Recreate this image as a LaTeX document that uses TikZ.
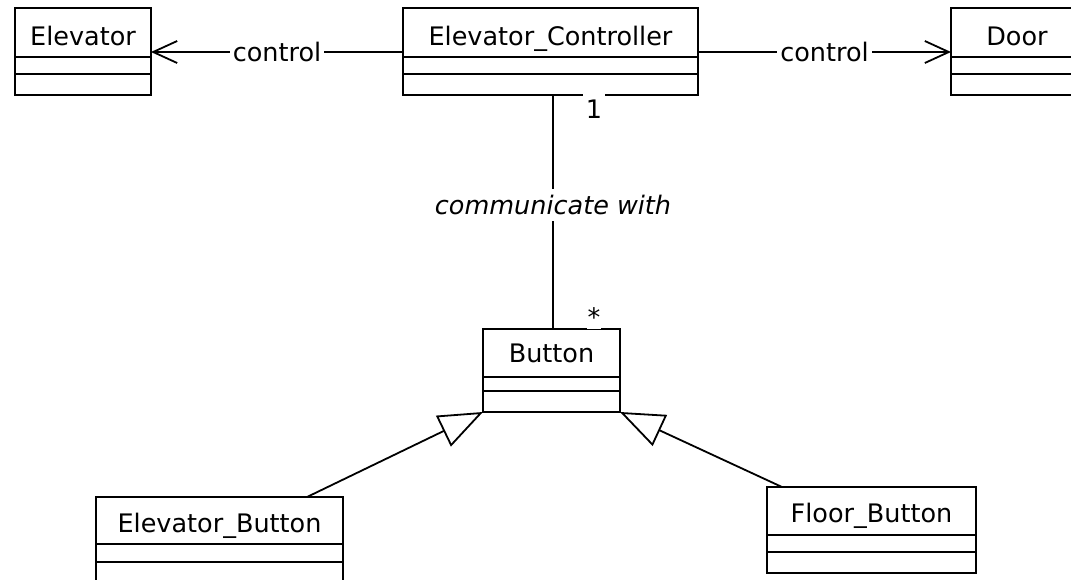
\documentclass[tikz,border=0pt]{standalone}
\usepackage{fontspec}
\setmainfont{DejaVu Sans}
\usetikzlibrary{arrows.meta}
\tikzset{
  clsbox/.style={draw, line width=2pt, inner sep=0pt, outer sep=0pt},
  clsline/.style={line width=2pt},
  clstitle/.style={anchor=base, inner sep=0pt},
  conn/.style={line width=1.8pt},
  dep/.style={conn, -{Straight Barb[length=24pt,width=22pt]}},
  gen/.style={conn, -{Triangle[open,fill=white,length=44pt,width=34pt]}},
  lbl/.style={fill=white, inner xsep=3pt, inner ysep=2pt},
  mult/.style={fill=white, inner xsep=3pt, inner ysep=3pt, anchor=base, text height=22pt, text depth=0pt},
  every node/.style={font=\fontsize{25.5}{30}\selectfont}
}
% name, x, y, width, height, divider1, divider2, title, baseline offset
\newcommand{\umlcls}[9]{%
  \node[clsbox, minimum width=#4pt, minimum height=#5pt, anchor=north west] (#1) at (#2,#3) {};
  \draw[clsline] ([yshift=-#6pt]#1.north west) -- ([yshift=-#6pt]#1.north east);
  \draw[clsline] ([yshift=-#7pt]#1.north west) -- ([yshift=-#7pt]#1.north east);
  \node[clstitle] (#1-t) at ([yshift=-#9pt]#1.north) {#8};
}
\begin{document}
\begin{tikzpicture}[x=1pt,y=-1pt]
\useasboundingbox (0,0) rectangle (1071,579);
\clip (0,0) rectangle (1071,579);

\umlcls{elev}{15}{8}{136}{87}{49}{66}{Elevator}{37}
\umlcls{ctrl}{403}{8}{295}{87}{49}{66}{Elevator\_Controller}{37}
\umlcls{door}{951}{8}{132}{87}{49}{66}{Door}{37}
\umlcls{btn}{483}{329}{137}{83}{48}{62}{Button}{33}
\umlcls{ebtn}{96}{497}{247}{120}{47}{65}{Elevator\_Button}{35}
\umlcls{fbtn}{767}{487}{209}{86}{48}{65}{Floor\_Button}{35}

% control dependencies
\draw[dep] ([yshift=-44pt]ctrl.north west) -- node[lbl] (c1) {control} ([yshift=-44pt]elev.north east);
\draw[dep] ([yshift=-44pt]ctrl.north east) -- node[lbl] (c2) {control} ([yshift=-44pt]door.north west);

% association
\coordinate (vx) at (553,0);
\draw[conn] (ctrl.south -| vx) -- node[lbl, pos=0.47, inner ysep=6pt, font=\fontsize{25.5}{30}\selectfont\itshape] (assoc) {communicate with} (btn.north -| vx);
\node[mult] (m1) at (594,118) {1};
\node[mult, inner xsep=0.5pt] (m2) at (594,326) {*};

% generalizations
\draw[gen] ([xshift=211pt]ebtn.north west) -- (btn.south west);
\draw[gen] ([xshift=15pt]fbtn.north west) -- (btn.south east);
\end{tikzpicture}
\end{document}
